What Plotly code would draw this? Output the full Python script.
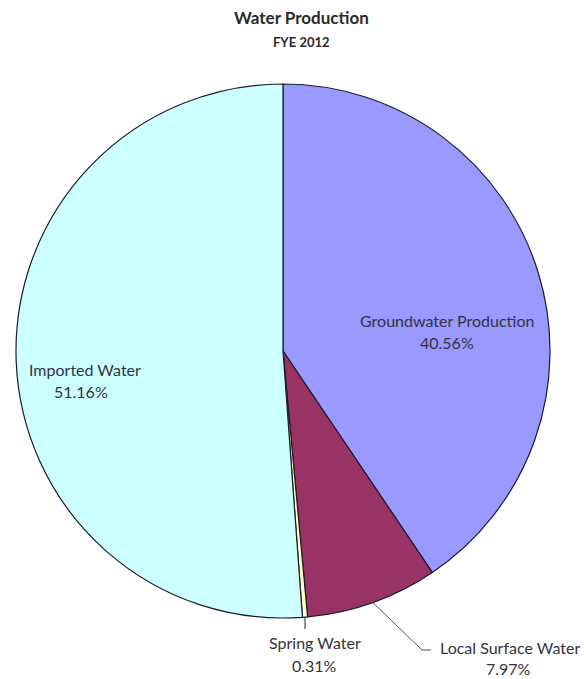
import math
import plotly.graph_objects as go

# Water production sources, FYE 2012 (share of total, %)
sources = ["Groundwater Production", "Local Surface Water", "Spring Water", "Imported Water"]
shares = [40.56, 7.97, 0.31, 51.16]
colors = ["#9999FF", "#993366", "#FFFFCC", "#CCFFFF"]

W, H = 586, 679
CX, CY, R = 283, 351, 267  # pie centre and radius in pixels


def px(x):
    return x / W


def py(y):
    return 1 - y / H


def edge_point(idx, frac=1.0):
    """Point at the middle angle of slice idx, frac*R from the centre (pixels)."""
    total = sum(shares)
    start = sum(shares[:idx]) / total
    mid = start + shares[idx] / total / 2
    ang = 2 * math.pi * mid  # clockwise from 12 o'clock
    return CX + frac * R * math.sin(ang), CY - frac * R * math.cos(ang)


fig = go.Figure(
    go.Pie(
        labels=sources,
        values=shares,
        sort=False,
        direction="clockwise",
        rotation=0,
        marker=dict(colors=colors, line=dict(color="#1c1c2c", width=1.2)),
        textinfo="none",
        hoverinfo="label+percent",
        domain=dict(x=[px(CX - R), px(CX + R)], y=[py(CY + R), py(CY - R)]),
        showlegend=False,
    )
)

FONT = "Lato"
TXT = "#33333f"


def note(text, x, y, size, color=TXT):
    return dict(text=text, x=px(x), y=py(y), xref="paper", yref="paper",
                xanchor="center", yanchor="middle", showarrow=False,
                font=dict(family=FONT, size=size, color=color))


# label placement: (name centre x, name y, percent centre x, percent y)
label_pos = {
    "Groundwater Production": (447, 320, 447, 342),
    "Imported Water": (85, 370, 81, 392),
    "Spring Water": (315, 642, 314, 665),
    "Local Surface Water": (510, 647, 508, 668),
}

annotations = [
    note("<b>Water Production</b>", 301, 17, 17, "#2a2a2a"),
    note("<b>FYE 2012</b>", 301, 42, 13, "#2a2a2a"),
]
for name, val in zip(sources, shares):
    nx, ny, vx, vy = label_pos[name]
    annotations.append(note(name, nx, ny, 16))
    annotations.append(note(f"{val:.2f}%", vx, vy, 16))

# leader lines for the small slices
shapes = []
lx, ly = edge_point(sources.index("Local Surface Water"))
shapes.append(dict(type="path", xref="paper", yref="paper",
                   path=f"M {px(lx)},{py(ly)} L {px(422)},{py(650)} L {px(431)},{py(650)}",
                   line=dict(color="#555555", width=1)))
sx, sy = edge_point(sources.index("Spring Water"))
shapes.append(dict(type="line", xref="paper", yref="paper",
                   x0=px(sx), y0=py(sy), x1=px(sx), y1=py(629),
                   line=dict(color="#222222", width=1)))

fig.update_layout(
    width=W, height=H,
    margin=dict(l=0, r=0, t=0, b=0),
    paper_bgcolor="white",
    plot_bgcolor="white",
    annotations=annotations,
    shapes=shapes,
)

fig.write_html("out.html")
